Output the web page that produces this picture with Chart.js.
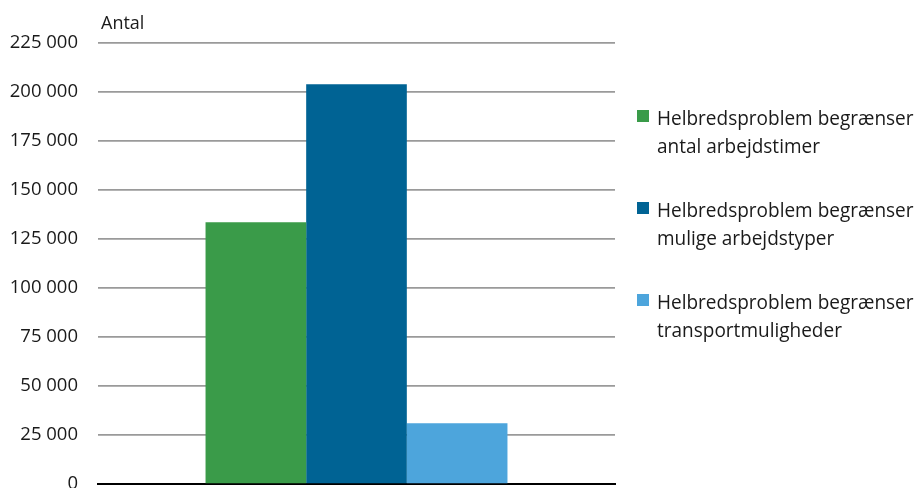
<!DOCTYPE html>
<html>
<head>
<meta charset="utf-8">
<script src="https://cdn.jsdelivr.net/npm/chart.js@4.4.1/dist/chart.umd.min.js"></script>
<style>
  html, body { margin: 0; padding: 0; background: #fff; }
  #wrap { position: relative; width: 914px; height: 488px; }
  #ytitle { position: absolute; left: 101px; top: 10px; font: 18px "Open Sans", sans-serif; color: #1a1a1a; }
  #legend { position: absolute; left: 637px; top: 104px; font: 20px "Open Sans", sans-serif; color: #1a1a1a; }
  .item { position: relative; padding-left: 20px; line-height: 28px; margin-bottom: 36px; white-space: nowrap; }
  .item .txt { display: inline-block; transform: scaleX(0.95); transform-origin: left center; }
  .box { position: absolute; left: 0; top: 6px; width: 12px; height: 12px; }
</style>
</head>
<body>
<div id="wrap">
  <canvas id="chart" width="914" height="488"></canvas>
  <div id="ytitle">Antal</div>
  <div id="legend"></div>
</div>
<script>
const categories = [''];
const seriesNames = [
  ['Helbredsproblem begrænser', 'antal arbejdstimer'],
  ['Helbredsproblem begrænser', 'mulige arbejdstyper'],
  ['Helbredsproblem begrænser', 'transportmuligheder']
];
const seriesValues = [133500, 204000, 31000];
const seriesColors = ['#3a9b49', '#006394', '#4da5dc'];
const yTicks = [0, 25000, 50000, 75000, 100000, 125000, 150000, 175000, 200000, 225000];

const fontFamily = '"Open Sans", sans-serif';

const datasets = seriesNames.map((name, i) => ({
    label: name.join(' '),
    data: [seriesValues[i]],
    backgroundColor: seriesColors[i],
    borderWidth: 0
}));

new Chart(document.getElementById('chart').getContext('2d'), {
    type: 'bar',
    data: { labels: categories, datasets: datasets },
    options: {
        responsive: false,
        animation: false,
        layout: { padding: { top: 43, right: 299, bottom: -4, left: 0 } },
        datasets: { bar: { categoryPercentage: 0.584, barPercentage: 1 } },
        plugins: { legend: { display: false }, tooltip: { enabled: false } },
        scales: {
            x: {
                grid: { display: false },
                border: { display: true, color: '#000', width: 2 },
                ticks: { display: false }
            },
            y: {
                min: 0,
                max: 225000,
                afterBuildTicks: (scale) => { scale.ticks = yTicks.map(v => ({ value: v })); },
                afterFit: (scale) => { scale.width = 98; scale.paddingTop = 0; scale.paddingBottom = 0; },
                grid: { color: '#9a9a9a', lineWidth: 1.7, drawTicks: false },
                border: { display: false },
                ticks: {
                    padding: 20,
                    color: '#1a1a1a',
                    font: { family: fontFamily, size: 18.5 },
                    callback: (v) => String(v).replace(/\B(?=(\d{3})+(?!\d))/g, ' ')
                }
            }
        }
    }
});

const legend = document.getElementById('legend');
seriesNames.forEach((name, i) => {
    const item = document.createElement('div');
    item.className = 'item';
    item.innerHTML = '<span class="box" style="background:' + seriesColors[i] + '"></span>' +
        '<span class="txt">' + name.join('<br>') + '</span>';
    legend.appendChild(item);
});
</script>
</body>
</html>
